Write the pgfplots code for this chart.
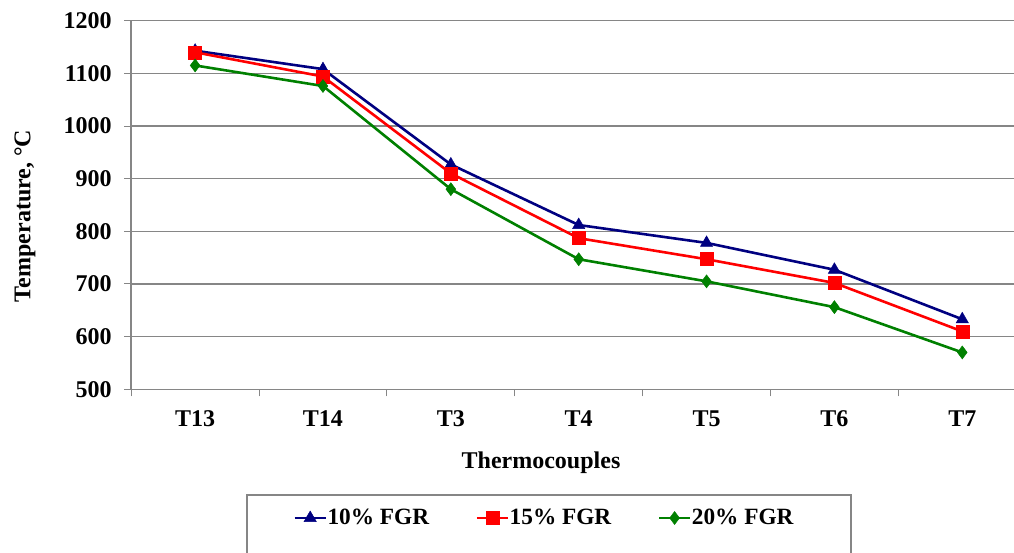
\documentclass[border=0pt]{standalone}
\usepackage{fontspec}
\setmainfont{Liberation Serif}
\usepackage{pgfplots}
\pgfplotsset{compat=1.18}
\definecolor{c10}{RGB}{0,0,128}
\definecolor{c15}{RGB}{255,0,0}
\definecolor{c20}{RGB}{0,128,0}
\definecolor{gridc}{RGB}{134,134,134}
\newcommand{\bigbf}{\fontsize{24}{28}\selectfont\bfseries}

\begin{document}
\begin{tikzpicture}[x=1pt,y=1pt]
\begin{axis}[
    at={(0,0)}, anchor=south west,
    scale only axis,
    width=895pt, height=368.6pt,
    xmin=-0.5, xmax=6.5,
    ymin=500, ymax=1200,
    ytick={500,600,...,1200},
    xtick={0,...,6},
    xticklabels={T13,T14,T3,T4,T5,T6,T7},
    minor xtick={-0.5,0.5,...,6.5},
    major x tick style={draw=none},
    axis lines*=left,
    ymajorgrids=true,
    grid style={gridc, line width=1.5pt},
    axis line style={gridc, line width=1.5pt},
    tick style={gridc, line width=1pt},
    tick align=outside,
    major tick length=7pt, minor tick length=7pt,
    tick label style={font=\bigbf},
    /pgf/number format/assume math mode=true,
    /pgf/number format/1000 sep={},
    xticklabel style={text height=16pt, text depth=0pt, yshift=-11pt},
    yticklabel style={xshift=-9pt},
    clip=false,
    legend columns=3,
    legend style={draw=none, fill=none, inner sep=0pt,
        font=\fontsize{23.3}{27}\selectfont\bfseries,
        at={(162pt,-128.7pt)}, anchor=west,
        nodes={inner xsep=0.5pt},
        /tikz/every even column/.append style={column sep=46pt}},
    legend image code/.code={%
        \draw[mark repeat=2, mark phase=2] plot coordinates {(0pt,0pt) (15.5pt,0pt) (31pt,0pt)};},
]
\addplot[color=c10, line width=2.6pt, mark=triangle*, mark size=7pt,
    mark options={solid, line width=0.5pt}]
    coordinates {(0,1143)(1,1108)(2,927)(3,812)(4,778)(5,727)(6,633)};
\addplot[color=c15, line width=2.6pt, mark=square*, mark size=6.5pt,
    mark options={solid, line width=0.5pt}]
    coordinates {(0,1140)(1,1094)(2,910)(3,787)(4,747)(5,702)(6,610)};
\addplot[color=c20, line width=2.6pt, mark=diamond*, mark size=6.5pt,
    mark options={solid, line width=0.5pt}]
    coordinates {(0,1115)(1,1076)(2,880)(3,747)(4,705)(5,656)(6,570)};
\legend{10\% FGR, 15\% FGR, 20\% FGR}
\end{axis}
% axis titles and legend frame
\node[font=\bigbf] at (409.8,-73.7) {Thermocouples};
\node[font=\bigbf, rotate=90] at (-106.2,173.3) {Temperature, °C};
\draw[gridc, line width=1.5pt] (115.8,-105.7) rectangle (719.8,-180);
\pgfresetboundingbox
\path[use as bounding box] (-131.2,-163.7) rectangle (882.8,389.3);
\end{tikzpicture}
\end{document}
